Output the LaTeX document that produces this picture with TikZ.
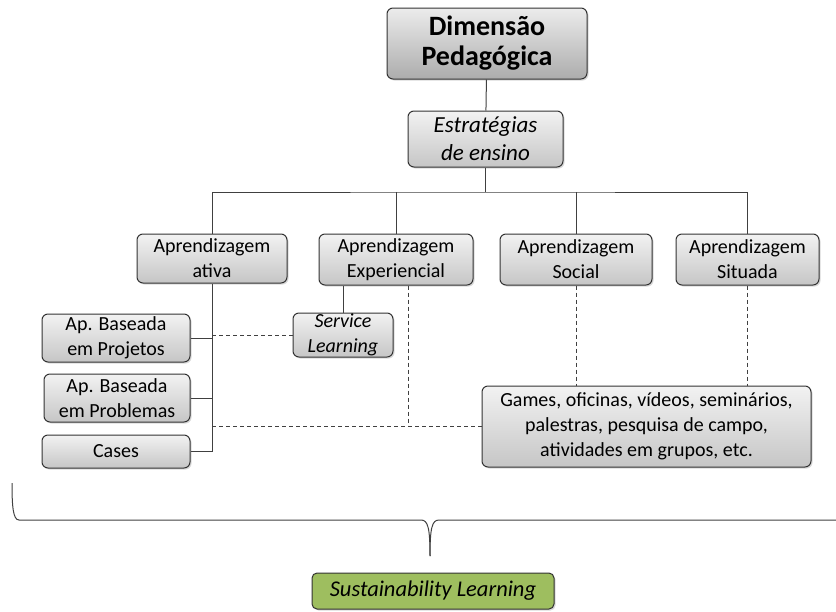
\documentclass[tikz,border=0pt]{standalone}
\usepackage{fontspec}
\setmainfont{Carlito}
\usepackage{tikz}
\usetikzlibrary{shapes,shadows}
\definecolor{sustgreen}{RGB}{158,190,95}
\tikzstyle{box} = [draw=black!80, line width=1pt, rounded corners=6pt, top color=gray!10, bottom color=gray!45, align=center, inner sep=0pt, font=\fontsize{20}{25}\selectfont, drop shadow={shadow xshift=1.5pt, shadow yshift=-1.5pt, opacity=0.3}]
\tikzstyle{line} = [draw=black!75, line width=1pt]
\tikzstyle{linedash} = [draw=black!75, line width=1pt, dash pattern=on 4pt off 3pt]

\begin{document}
\begin{tikzpicture}[x=1pt, y=-1pt]
            \useasboundingbox (0,0) rectangle (836,611);
                % levels 1 and 2
                \node [box, minimum width=200, minimum height=71, top color=gray!15, bottom color=gray!65, font=\fontsize{28}{30}\selectfont\bfseries] (dim) at (487,43.5) {Dimensão\\Pedagógica};
                \node [box, minimum width=155, minimum height=56, font=\fontsize{23}{28}\selectfont\itshape] (estr) at (485.5,139) {Estratégias\\de ensino};
                % learning types
                \node [box, minimum width=150, minimum height=49] (ativa) at (212,258.5) {Aprendizagem\\ativa};
                \node [box, minimum width=154, minimum height=51] (exper) at (396,259.5) {Aprendizagem\\Experiencial};
                \node [box, minimum width=152, minimum height=51] (social) at (576,259.5) {Aprendizagem\\Social};
                \node [box, minimum width=143, minimum height=51] (situ) at (747.5,259.5) {Aprendizagem\\Situada};
                % methods
                \node [box, minimum width=148, minimum height=48] (projetos) at (116,338) {Ap. Baseada\\em Projetos};
                \node [box, minimum width=146, minimum height=48] (problemas) at (117,398) {Ap. Baseada\\em Problemas};
                \node [box, minimum width=148, minimum height=33] (cases) at (116,451.5) {Cases};
                \node [box, minimum width=100, minimum height=44, font=\fontsize{20}{25}\selectfont\itshape] (service) at (343,335) {Service\\Learning};
                \node [box, minimum width=329, minimum height=81] (games) at (646.5,426.5) {Games, oficinas, vídeos, seminários,\\palestras, pesquisa de campo,\\atividades em grupos, etc.};
                \node [box, minimum width=242, minimum height=36, fill=sustgreen, top color=sustgreen, bottom color=sustgreen, rounded corners=5pt, font=\fontsize{22.5}{25}\selectfont\itshape] (sust) at (433,591) {Sustainability Learning};
                \coordinate (bus) at (485.5,192);
                \coordinate (tip) at (430,556);
                % solid links
                \path [line] (dim) -- (estr);
                \path [line] (estr) -- (bus);
                \path [line] (ativa.north) |- (bus) -| (situ.north);
                \path [line] (exper.north) -- (exper.north |- bus);
                \path [line] (social.north) -- (social.north |- bus);
                \path [line] (ativa.south) |- (cases.east);
                \path [line] (projetos.east) -- (projetos.east -| ativa.south);
                \path [line] (problemas.east) -- (problemas.east -| ativa.south);
                \path [line] (service.north) -- (service.north |- exper.south);
                % dashed links
                \path [linedash] (service.west -| ativa.south) -- (service.west);
                \path [linedash] (games.west -| ativa.south) -- (games.west);
                \path [linedash] ([xshift=12pt]exper.south) -- ([xshift=12pt]exper.south |- games.west);
                \path [linedash] (social.south) -- (social.south |- games.north);
                \path [linedash] (situ.south) -- (situ.south |- games.north);
                % brace
                \draw [black!75, line width=1pt] (12,483) .. controls (12,506) and (13,520) .. (19,520) -- (421,520) .. controls (428,520) and (430,528) .. (tip);
                \draw [black!75, line width=1pt] (836,520) -- (439,520) .. controls (432,520) and (430,528) .. (tip);
            \end{tikzpicture}
\end{document}
